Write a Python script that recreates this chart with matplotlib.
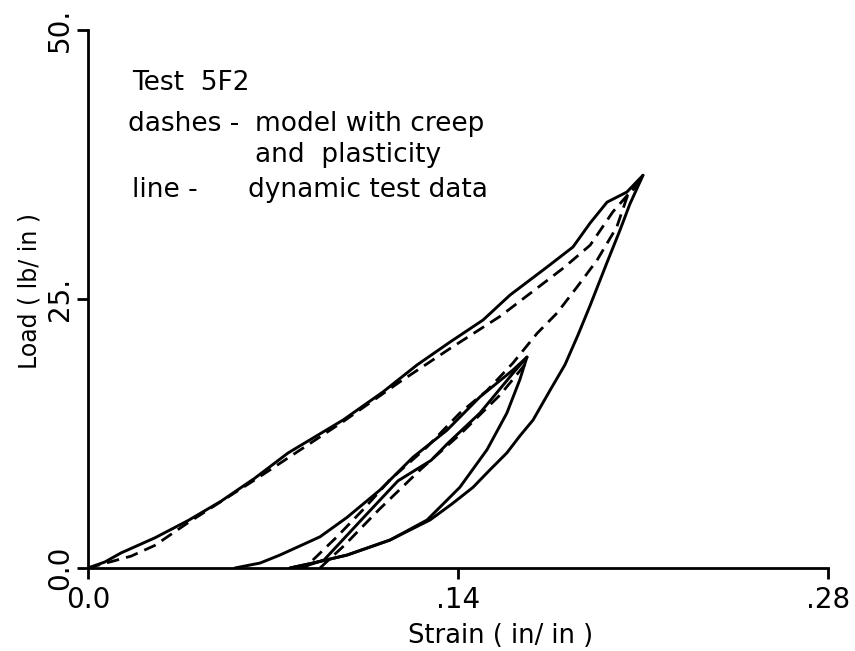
import matplotlib.pyplot as plt

# strain (in/in) and load (lb/in)
# test data (solid)
load_x = [0.0, 0.0064, 0.0125, 0.0253, 0.0378, 0.0503, 0.0632, 0.0757, 0.0965, 0.1116,
          0.1245, 0.137, 0.1495, 0.1597, 0.1737, 0.1835, 0.19, 0.1964, 0.2039, 0.21]
load_y = [0.0, 0.56, 1.4, 2.8, 4.4, 6.2, 8.36, 10.69, 13.75, 16.36,
          18.87, 21.0, 23.05, 25.37, 27.97, 29.83, 32.06, 34.0, 34.94, 36.5]

unload_x = [0.21, 0.205, 0.2013, 0.1964, 0.19, 0.1854, 0.1805, 0.1748, 0.1684, 0.1635,
            0.1585, 0.152, 0.1457, 0.1377, 0.1294, 0.1143, 0.098, 0.0851, 0.0764]
unload_y = [36.5, 33.8, 31.4, 28.4, 24.4, 21.65, 18.9, 16.5, 13.75, 12.3,
            10.7, 9.1, 7.5, 5.95, 4.46, 2.6, 1.2, 0.46, 0.0]

reload_x = [0.0556, 0.0651, 0.0726, 0.0878, 0.098, 0.1105, 0.123, 0.1358, 0.1483, 0.1608, 0.1661]
reload_y = [0.0, 0.46, 1.2, 2.9, 4.7, 7.25, 10.3, 12.8, 15.9, 18.4, 19.6]

reload2_x = [0.08, 0.0893, 0.1043, 0.1173, 0.1298, 0.1362, 0.1483, 0.1608, 0.1661]
reload2_y = [0.0, 0.74, 4.7, 8.1, 10.0, 11.6, 14.4, 18.1, 19.6]

unload2_x = [0.1661, 0.1634, 0.1585, 0.151, 0.1407, 0.1283, 0.1143, 0.098, 0.0851, 0.0764]
unload2_y = [19.6, 17.5, 14.4, 11.0, 7.5, 4.46, 2.6, 1.2, 0.46, 0.0]

# model with creep and plasticity (dashes)
model_x = [0.0, 0.0163, 0.0253, 0.0378, 0.0632, 0.0965, 0.118, 0.137, 0.156, 0.18,
           0.19, 0.1986, 0.21,
           0.204, 0.2001, 0.1926, 0.185, 0.1775, 0.1699, 0.1608, 0.151, 0.1407,
           0.1283, 0.1143, 0.104, 0.0942, 0.0851, 0.082]
model_y = [0.0, 1.1, 2.1, 4.2, 8.2, 13.6, 17.3, 20.4, 23.4, 27.9,
           30.0, 33.1, 36.3,
           34.5, 31.7, 28.6, 26.1, 23.7, 21.8, 19.05, 16.5, 14.4,
           11.25, 8.2, 5.4, 2.9, 0.74, 0.0]

model2_x = [0.0878, 0.097, 0.11, 0.1256, 0.1407, 0.156, 0.166]
model2_y = [0.0, 2.1, 5.4, 9.1, 12.4, 16.1, 19.1]

fig = plt.figure(figsize=(8.55, 6.51), dpi=100)
ax = fig.add_axes([0.1029, 0.1275, 0.8655, 0.8264])

for xs, ys in [(load_x, load_y), (unload_x, unload_y), (reload_x, reload_y),
               (reload2_x, reload2_y), (unload2_x, unload2_y)]:
    ax.plot(xs, ys, color='black', lw=2.1, solid_capstyle='round', solid_joinstyle='round')
for xs, ys in [(model_x, model_y), (model2_x, model2_y)]:
    ax.plot(xs, ys, color='black', lw=2.0, linestyle=(0, (4.5, 2.6)))

ax.set_xlim(0, 0.28)
ax.set_ylim(0, 50)
ax.spines['top'].set_visible(False)
ax.spines['right'].set_visible(False)
ax.spines['left'].set_linewidth(2)
ax.spines['bottom'].set_linewidth(2)

ax.set_xticks([0, 0.14, 0.28])
ax.set_xticklabels(['0.0', '.14', '.28'], fontsize=20)
ax.set_yticks([0, 25, 50])
ax.set_yticklabels(['0.0', '25.', '50.'], fontsize=20, rotation=90, va='center')
ax.tick_params(axis='x', direction='out', length=8, width=2, pad=5)
ax.tick_params(axis='y', direction='out', length=8, width=2, pad=2)

fig.text(501 / 855, 1 - 636 / 651, 'Strain ( in/ in )', fontsize=18.5, ha='center', va='center')
fig.text(30 / 855, 1 - 291 / 651, 'Load ( lb/ in )', fontsize=17, ha='center', va='center',
         rotation=90)

fs = 19
ax.text(0.0166, 44.4, 'Test  5F2', fontsize=fs)
ax.text(0.0151, 40.6, 'dashes -', fontsize=fs)
ax.text(0.0632, 40.6, 'model with creep', fontsize=fs)
ax.text(0.0632, 37.7, 'and  plasticity', fontsize=fs)
ax.text(0.0166, 34.5, 'line -', fontsize=fs)
ax.text(0.0605, 34.5, 'dynamic test data', fontsize=fs)

plt.savefig('out.png', dpi=100)
